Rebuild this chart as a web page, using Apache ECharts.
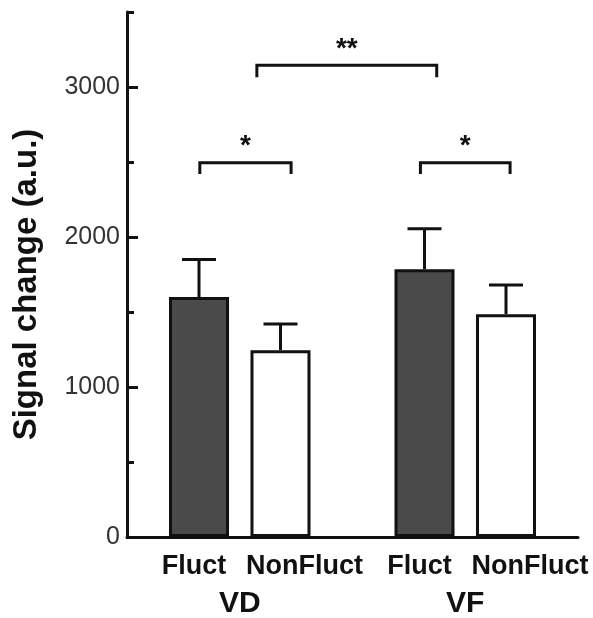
<!DOCTYPE html>
<html>
<head>
<meta charset="utf-8">
<script src="https://cdn.jsdelivr.net/npm/echarts@6/dist/echarts.min.js"></script>
<style>
  html, body { margin: 0; padding: 0; background: #fff; }
  #chart { width: 593px; height: 618px; }
</style>
</head>
<body>
<div id="chart"></div>
<script>
// groups on the x axis
const groups = ['VD', 'VF']
// mean signal change and upper error (SEM) per group
const fluctMean = [1600, 1785]
const fluctErr = [250, 270]
const nonFluctMean = [1245, 1485]
const nonFluctErr = [175, 195]
// y axis ticks
const yMajor = [0, 1000, 2000, 3000]
const yMinor = [500, 1500, 2500, 3500]
// significance brackets: [group, slot, group, slot, level, drop, mark]
const brackets = [
  [0, -0.49, 0, 0.63, 2495, 75, '*'],
  [1, -0.55, 1, 0.55, 2495, 75, '*'],
  [0, 0.21, 1, -0.35, 3145, 80, '**']
]

const BAR_W = 60
const PITCH = 81.5
const INK = '#111'
const FONT = 'Liberation Sans, Arial, sans-serif'

const chart = echarts.init(document.getElementById('chart'))

const errData = []
fluctMean.forEach((m, i) => errData.push([i, m, fluctErr[i], 0]))
nonFluctMean.forEach((m, i) => errData.push([i, m, nonFluctErr[i], 1]))

function renderErr(params, api) {
  const base = api.coord([api.value(0), api.value(1)])
  const top = api.coord([api.value(0), api.value(1) + api.value(2)])
  const x = base[0] + (api.value(3) - 0.5) * PITCH
  const style = { stroke: INK, lineWidth: 3 }
  return {
    type: 'group',
    children: [
      { type: 'line', shape: { x1: x, y1: base[1], x2: x, y2: top[1] }, style },
      { type: 'line', shape: { x1: x - 17, y1: top[1], x2: x + 17, y2: top[1] }, style }
    ]
  }
}

function renderBracket(params, api) {
  const b = brackets[params.dataIndex]
  const p1 = api.coord([b[0], b[4]])
  const p2 = api.coord([b[2], b[4]])
  const low = api.coord([b[0], b[4] - b[5]])
  const x1 = p1[0] + b[1] * PITCH
  const x2 = p2[0] + b[3] * PITCH
  return {
    type: 'group',
    children: [
      {
        type: 'polyline',
        shape: { points: [[x1, low[1]], [x1, p1[1]], [x2, p1[1]], [x2, low[1]]] },
        style: { stroke: INK, lineWidth: 3, fill: null, lineJoin: 'miter' }
      },
      {
        type: 'text',
        x: (x1 + x2) / 2,
        y: p1[1] - 2,
        style: {
          text: b[6], fill: INK, font: 'bold 28px ' + FONT,
          align: 'center', verticalAlign: 'bottom'
        }
      }
    ]
  }
}

const barLabel = (text, dx) => ({
  show: true,
  position: 'bottom',
  distance: 16,
  offset: [dx, 0],
  formatter: text,
  fontSize: 27,
  fontWeight: 'bold',
  fontFamily: FONT,
  color: INK
})

chart.setOption({
  animation: false,
  backgroundColor: '#fff',
  grid: { left: 127, right: 15, top: 12, bottom: 81, outerBoundsMode: 'none' },
  xAxis: {
    type: 'category',
    data: groups,
    axisLine: { lineStyle: { color: INK, width: 3 } },
    axisTick: { show: false },
    axisLabel: {
      margin: 52, fontSize: 30, fontWeight: 'bold', fontFamily: FONT, color: INK
    }
  },
  yAxis: [{
    type: 'value',
    min: 0,
    max: 3500,
    interval: 500,
    position: 'left',
    name: 'Signal change (a.u.)',
    nameLocation: 'middle',
    nameGap: 84,
    nameTextStyle: {
      fontSize: 33, fontWeight: 'bold', fontFamily: FONT, color: INK,
      padding: [0, 20, 0, 0]
    },
    axisLine: { show: true, lineStyle: { color: INK, width: 3 } },
    axisTick: { show: true, inside: true, length: 7, customValues: yMinor, lineStyle: { color: INK, width: 3 } },
    axisLabel: {
      customValues: yMajor, margin: 7, fontSize: 25, fontFamily: FONT, color: '#333',
      formatter: (v) => String(v)
    },
    splitLine: { show: false }
  }, {
    type: 'value',
    min: 0,
    max: 3500,
    position: 'left',
    axisLine: { show: false },
    axisTick: { show: true, inside: true, length: 11, customValues: yMajor, lineStyle: { color: INK, width: 3 } },
    axisLabel: { show: false },
    splitLine: { show: false }
  }],
  series: [
    {
      type: 'bar',
      name: 'Fluct',
      data: fluctMean,
      barWidth: BAR_W,
      barGap: ((PITCH - BAR_W) / BAR_W * 100).toFixed(1) + '%',
      itemStyle: { color: '#4a4a4a', borderColor: INK, borderWidth: 3 },
      label: barLabel('Fluct', -5),
      emphasis: { disabled: true }
    },
    {
      type: 'bar',
      name: 'NonFluct',
      data: nonFluctMean,
      barWidth: BAR_W,
      itemStyle: { color: '#fff', borderColor: INK, borderWidth: 3 },
      label: barLabel('NonFluct', 24),
      emphasis: { disabled: true }
    },
    {
      type: 'custom',
      renderItem: renderErr,
      data: errData,
      z: 3,
      silent: true
    },
    {
      type: 'custom',
      renderItem: renderBracket,
      data: brackets.map((b) => [b[0], b[4]]),
      z: 3,
      silent: true
    }
  ]
})
</script>
</body>
</html>
